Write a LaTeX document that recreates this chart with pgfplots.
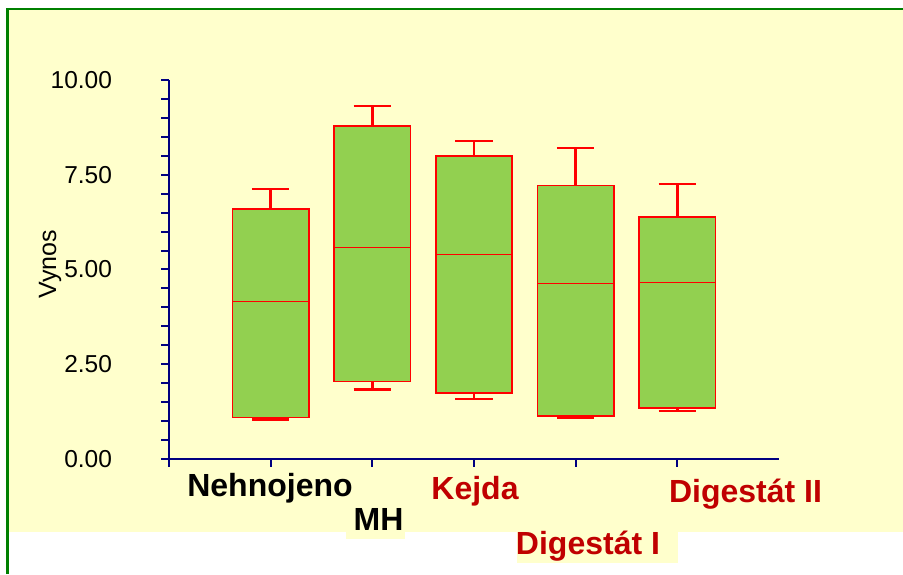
\documentclass[border=0pt]{standalone}
\usepackage{fontspec}
\setmainfont{Liberation Sans}
\usepackage{pgfplots}
\pgfplotsset{compat=1.18}
\usepgfplotslibrary{statistics}
\definecolor{bgy}{HTML}{FFFFCC}
\definecolor{bxg}{HTML}{92D050}
\definecolor{nav}{HTML}{000080}
\definecolor{grn}{HTML}{008000}
\definecolor{dred}{HTML}{C00000}
\begin{document}
\begin{tikzpicture}
\useasboundingbox (0pt,0pt) rectangle (903pt,574pt);
\fill[bgy] (8pt,42pt) rectangle (903pt,565pt);
\fill[bgy] (346pt,35pt) rectangle (405pt,43pt);
\fill[bgy] (517pt,11pt) rectangle (678pt,43pt);
\draw[grn, line width=2.2pt] (7.5pt,0pt) -- (7.5pt,565pt) -- (903pt,565pt);
\begin{axis}[
  at={(169pt,115pt)}, anchor=south west,
  scale only axis, width=610pt, height=379pt,
  xmin=0, xmax=6, ymin=0, ymax=10,
  axis x line=bottom, axis y line=left,
  axis line style={-, draw=nav, line width=2.4pt},
  xtick={0,1,2,3,4,5}, xticklabel=\empty,
  ytick={0,2.5,5,7.5,10},
  minor y tick num=4,
  tick align=outside,
  major tick length=7.5pt, minor tick length=7.5pt,
  tick style={nav, line width=2pt},
  yticklabel style={font=\fontsize{24.5}{28}\selectfont, xshift=-46pt,
    /pgf/number format/.cd, fixed, fixed zerofill, precision=2, assume math mode=true},
  boxplot/draw direction=y,
  boxplot/box extend=0.75,
  boxplot/whisker extend=0.37,
  boxplot/every box/.style={draw=red, fill=bxg, line width=1.6pt},
  boxplot/every whisker/.style={red, line width=2.4pt},
  boxplot/every median/.style={red, line width=1.2pt},
  clip=false,
]
\addplot[draw=red, boxplot prepared={lower whisker=1.04, lower quartile=1.10, median=4.15, upper quartile=6.60, upper whisker=7.12, draw position=1}] coordinates {};
\addplot[draw=red, boxplot prepared={lower whisker=1.83, lower quartile=2.04, median=5.59, upper quartile=8.78, upper whisker=9.32, draw position=2}] coordinates {};
\addplot[draw=red, boxplot prepared={lower whisker=1.59, lower quartile=1.74, median=5.40, upper quartile=8.00, upper whisker=8.39, draw position=3}] coordinates {};
\addplot[draw=red, boxplot prepared={lower whisker=1.09, lower quartile=1.13, median=4.63, upper quartile=7.22, upper whisker=8.21, draw position=4}] coordinates {};
\addplot[draw=red, boxplot prepared={lower whisker=1.27, lower quartile=1.35, median=4.66, upper quartile=6.39, upper whisker=7.26, draw position=5}] coordinates {};
\end{axis}
\node[rotate=90, font=\fontsize{25}{29}\selectfont] at (50pt,310pt) {Vynos};
\begin{scope}[every node/.style={anchor=base, inner sep=0pt, font=\fontsize{32}{37}\selectfont\bfseries}]
\node[black] at (270pt,78pt) {Nehnojeno};
\node[black] at (378.5pt,44pt) {MH};
\node[dred] at (475pt,75pt) {Kejda};
\node[dred] at (588pt,20pt) {Digestát I};
\node[dred] at (745.5pt,72pt) {Digestát II};
\end{scope}
\end{tikzpicture}
\end{document}
